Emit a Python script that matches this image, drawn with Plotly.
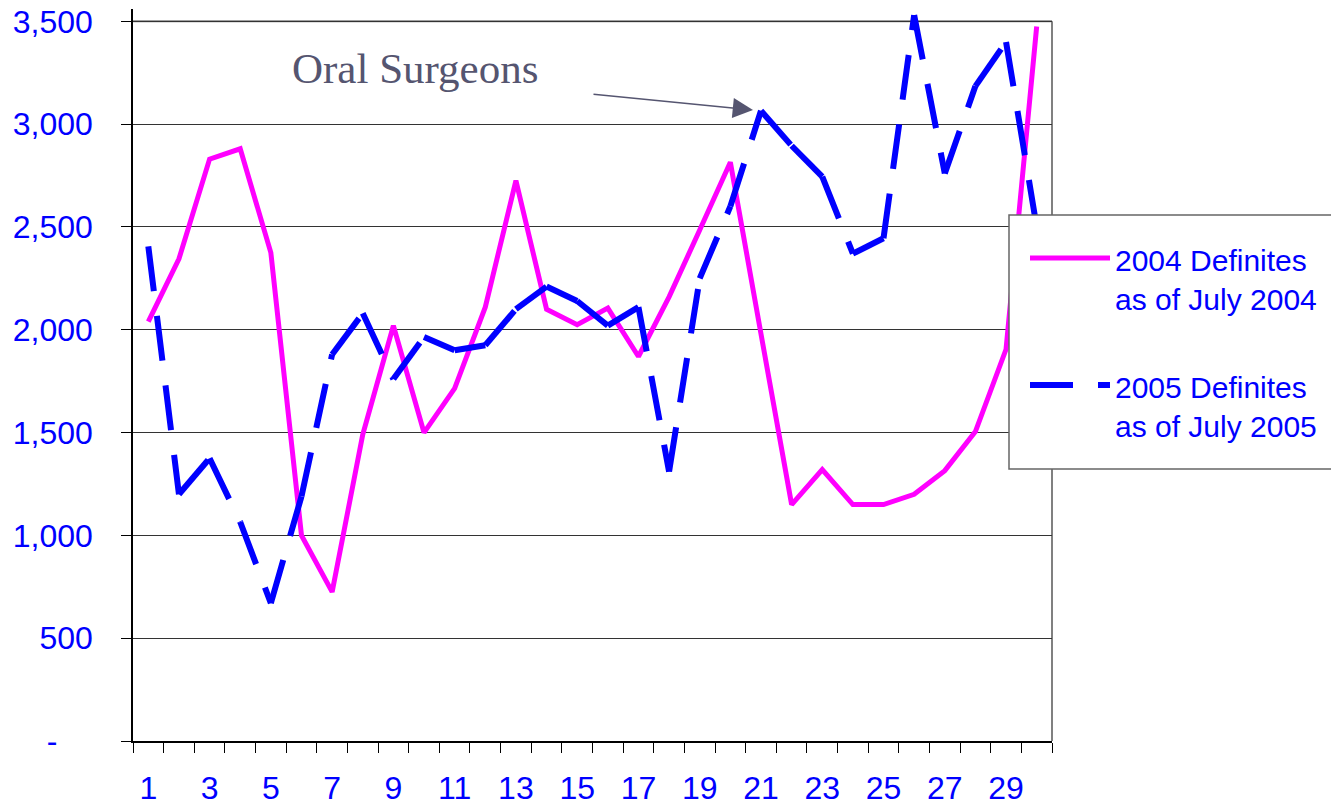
import plotly.graph_objects as go

categories = list(range(1, 31))
defs_2004 = [2040, 2345, 2830, 2880, 2375, 1000, 725, 1490, 2020, 1500,
             1715, 2110, 2725, 2100, 2025, 2105, 1870, 2160, 2485, 2815,
             1980, 1150, 1320, 1150, 1150, 1200, 1315, 1505, 1905, 3475]
defs_2005 = [2405, 1200, 1375, 1065, 670, 1190, 1880, 2080, 1760, 1965,
             1900, 1925, 2100, 2210, 2140, 2020, 2110, 1310, 2250, 2600,
             3065, 2895, 2745, 2370, 2445, 3530, 2760, 3185, 3400, 2500]
x_tick_vals = list(range(1, 31, 2))
x_tick_text = [str(v) for v in x_tick_vals]
y_tick_vals = [0, 500, 1000, 1500, 2000, 2500, 3000, 3500]
y_tick_text = ["-\u00a0\u00a0\u00a0\u00a0", "500", "1,000", "1,500", "2,000", "2,500", "3,000", "3,500"]
legend_names = ["2004 Definites<br>as of July 2004", "2005 Definites<br>as of July 2005"]

PINK = "#FF00FF"
BLUE = "#0000FF"
GREY = "#555570"
FONT = "Liberation Sans, Arial, sans-serif"

OFF = 8  # default page body margin
W, H = 1339 - OFF, 806 - OFF
# plot area in page pixels: x 133..1052, bottom 741, top (y=3560) ~9
L = 133 - OFF
R = W - (1052 - OFF)
B = H - (741 - OFF)
T = 9 - OFF
PW, PH = W - L - R, H - T - B

def px(xp):
    return (xp - 133) / PW

def py(yp):
    return (741 - yp) / PH

fig = go.Figure()

fig.add_trace(go.Scatter(x=categories, y=defs_2004, mode="lines",
                         line=dict(color=PINK, width=5), showlegend=False,
                         name=legend_names[0]))

# Excel restarts the dash pattern on each segment
for i in range(len(categories) - 1):
    fig.add_trace(go.Scatter(x=categories[i:i + 2], y=defs_2005[i:i + 2], mode="lines",
                             line=dict(color=BLUE, width=6, dash="45px,25px"),
                             showlegend=False, name=legend_names[1], hoverinfo="skip"))

shapes = [
    # top border (3500 line) and right border of plot area
    dict(type="line", xref="paper", yref="y", x0=0, x1=1, y0=3500, y1=3500,
         line=dict(color="#808080", width=2), layer="below"),
    dict(type="line", xref="paper", yref="y", x0=1, x1=1, y0=0, y1=3500,
         line=dict(color="#808080", width=2), layer="below"),
    # legend box
    dict(type="rect", xref="paper", yref="paper", x0=px(1009), x1=px(1360),
         y0=py(469), y1=py(215), fillcolor="white", line=dict(color="#666666", width=1.5),
         layer="above"),
    dict(type="line", xref="paper", yref="paper", x0=px(1030), x1=px(1110),
         y0=py(258), y1=py(258), line=dict(color=PINK, width=5), layer="above"),
    dict(type="line", xref="paper", yref="paper", x0=px(1030), x1=px(1110),
         y0=py(385), y1=py(385), line=dict(color=BLUE, width=6, dash="43px,25px"), layer="above"),
]

annotations = [
    dict(text=legend_names[0], xref="paper", yref="paper", x=px(1113), y=py(280),
         xanchor="left", yanchor="middle", align="left", showarrow=False,
         font=dict(family=FONT, size=30, color=BLUE)),
    dict(text=legend_names[1], xref="paper", yref="paper", x=px(1113), y=py(407),
         xanchor="left", yanchor="middle", align="left", showarrow=False,
         font=dict(family=FONT, size=30, color=BLUE)),
    dict(text="Oral Surgeons", xref="paper", yref="paper", x=px(415), y=py(69),
         xanchor="center", yanchor="middle", showarrow=False,
         font=dict(family="Liberation Serif, Times New Roman, serif", size=43, color=GREY)),
    dict(text="", xref="paper", yref="paper", x=px(753), y=py(110),
         ax=-161, ay=-16, showarrow=True, arrowhead=2, arrowsize=2.7,
         arrowwidth=1.5, arrowcolor=GREY, standoff=0),
]

fig.update_layout(
    width=W, height=H,
    margin=dict(l=L, r=R, t=T, b=B, pad=0, autoexpand=False),
    paper_bgcolor="white", plot_bgcolor="white",
    font=dict(family=FONT, color=BLUE),
    showlegend=False,
    shapes=shapes, annotations=annotations,
    xaxis=dict(range=[0.5, 30.5], tickmode="array", tickvals=x_tick_vals, ticktext=x_tick_text,
               automargin=False, ticklabeloverflow="allow",
               ticks="outside", ticklen=10, tickcolor="rgba(0,0,0,0)",
               ticklabelstandoff=8,
               tickfont=dict(family=FONT, size=32, color=BLUE),
               showgrid=False, zeroline=False, showline=True, linecolor="black", linewidth=1.5,
               minor=dict(tickvals=[k + 0.5 for k in range(31)], ticks="outside", ticklen=10,
                          tickcolor="black", tickwidth=1, showgrid=False)),
    yaxis=dict(range=[0, 3560], tickmode="array", tickvals=y_tick_vals, ticktext=y_tick_text,
               automargin=False, ticklabeloverflow="allow",
               ticks="outside", ticklen=10, tickcolor="black", tickwidth=1,
               ticklabelstandoff=22,
               tickfont=dict(family=FONT, size=32, color=BLUE),
               showgrid=True, gridcolor="#333333", gridwidth=1,
               zeroline=False, showline=True, linecolor="black", linewidth=1.5),
)

fig.write_html("out.html")
